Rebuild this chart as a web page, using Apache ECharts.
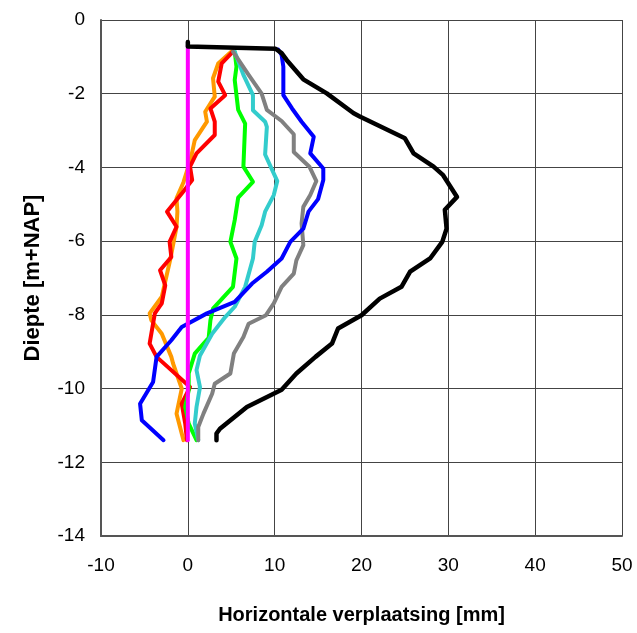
<!DOCTYPE html>
<html><head><meta charset="utf-8">
<script src="https://cdn.jsdelivr.net/npm/echarts@6/dist/echarts.min.js"></script>
<style>html,body{margin:0;padding:0;background:#fff}#c{width:637px;height:633px}</style>
</head><body><div id="c"></div>
<script>
const xTicks = [-10, 0, 10, 20, 30, 40, 50];
const yTicks = [0, -2, -4, -6, -8, -10, -12, -14];

const blackX = [0,0,10.1,10.8,11.4,13.3,16.0,19.1,19.8,25.0,26.0,28.3,29.4,31.0,29.6,29.8,29.3,27.9,25.6,24.6,22.1,20.0,17.3,16.6,14.7,12.5,10.8,6.8,3.7,3.3,3.3];
const blackY = [-0.6,-0.72,-0.78,-0.9,-1.09,-1.61,-1.99,-2.53,-2.62,-3.21,-3.62,-3.98,-4.21,-4.80,-5.15,-5.66,-6.02,-6.47,-6.83,-7.24,-7.56,-8.01,-8.37,-8.78,-9.14,-9.59,-10.03,-10.5,-11.09,-11.22,-11.4];

const blueX = [10.4,10.8,11.0,11.0,12.0,13.1,14.5,14.1,15.6,15.6,15.0,13.9,13.3,11.8,10.8,9.1,7.4,5.4,2.2,-0.7,-1.9,-3.6,-4.0,-5.5,-5.3,-2.8];
const blueY = [-0.8,-0.95,-1.27,-2.04,-2.4,-2.76,-3.17,-3.62,-4.03,-4.34,-4.86,-5.2,-5.66,-6.02,-6.47,-6.83,-7.15,-7.65,-7.96,-8.33,-8.69,-9.14,-9.82,-10.41,-10.86,-11.4];

const grayX = [5.2,7.0,8.5,9.1,10.8,12.2,12.2,14.0,14.8,14.1,13.3,13.1,13.3,12.5,12.2,10.8,9.9,9.0,7.0,6.4,5.3,4.9,3.1,2.8,1.8,1.2,1.2];
const grayY = [-0.86,-1.49,-2.0,-2.44,-2.74,-3.1,-3.58,-3.98,-4.37,-4.75,-5.07,-5.52,-6.11,-6.52,-6.88,-7.24,-7.69,-8.01,-8.24,-8.6,-9.05,-9.59,-9.87,-10.14,-10.68,-11.04,-11.4];

const cyanX = [5.4,6.4,7.5,7.5,8.9,9.1,8.9,10.3,9.9,8.9,8.5,7.7,7.5,6.6,5.4,4.3,2.8,1.4,1.0,1.4,1.0,0.8,1.2];
const cyanY = [-0.86,-1.49,-2.04,-2.45,-2.76,-2.9,-3.65,-4.37,-4.75,-5.2,-5.57,-6.02,-6.47,-7.24,-7.78,-8.06,-8.51,-9.1,-9.5,-9.96,-10.5,-10.95,-11.4];

const greenX = [5.4,5.6,5.4,5.8,6.6,6.4,7.5,5.8,5.4,4.9,5.6,5.2,2.9,2.6,2.4,0.8,0.1,0.1,-0.3,0.1,1.0];
const greenY = [-0.86,-1.27,-1.63,-2.44,-2.81,-3.98,-4.39,-4.82,-5.43,-6.02,-6.47,-7.24,-7.83,-8.15,-8.62,-9.05,-9.59,-10.05,-10.5,-10.95,-11.4];

const orangeX = [5.0,3.5,2.9,3.1,2.0,2.2,0.8,0.3,-0.5,-1.3,-1.2,-1.3,-2.0,-3.0,-4.4,-4.2,-3.0,-1.9,-1.7,-0.7,-1.3,-0.5];
const orangeY = [-0.86,-1.18,-1.58,-2.08,-2.49,-2.76,-3.26,-3.8,-4.4,-4.84,-5.2,-5.61,-6.47,-7.51,-7.96,-8.15,-8.51,-9.14,-9.32,-10.0,-10.68,-11.4];

const redX = [5.2,3.9,3.5,4.3,2.6,3.1,3.1,1.0,0.25,0.5,-0.7,-2.4,-1.3,-2.1,-1.9,-3.2,-2.6,-3.0,-3.8,-4.4,-3.6,0.25,-0.7,-0.3,-0.1];
const redY = [-0.86,-1.18,-1.67,-2.04,-2.40,-2.76,-3.12,-3.62,-3.98,-4.34,-4.71,-5.2,-5.61,-6.02,-6.43,-6.79,-7.2,-7.69,-7.96,-8.78,-9.14,-9.96,-10.41,-10.95,-11.4];

const pinkX = [0, 0];
const pinkY = [-0.7, -11.4];

function pairs(xs, ys) { return xs.map((x, i) => [x, ys[i]]); }
function ser(xs, ys, color, w, z) {
  return { type: 'line', data: pairs(xs, ys), showSymbol: false, symbol: 'none', smooth: false,
    lineStyle: { color: color, width: w, join: 'round', cap: 'round' }, z: z, silent: true, animation: false };
}

const chart = echarts.init(document.getElementById('c'), null, { renderer: 'canvas' });
chart.setOption({
  animation: false,
  backgroundColor: '#fff',
  grid: { left: 101, top: 20, right: 15, bottom: 97, containLabel: false },
  xAxis: {
    type: 'value', min: xTicks[0], max: xTicks[xTicks.length - 1], interval: 10,
    name: 'Horizontale verplaatsing [mm]', nameLocation: 'middle', nameGap: 69,
    nameTextStyle: { fontFamily: 'Liberation Sans', fontWeight: 'bold', fontSize: 20, color: '#000' },
    axisLine: { show: true, onZero: false, lineStyle: { color: '#555', width: 2 } },
    axisTick: { show: false },
    axisLabel: { fontFamily: 'Liberation Sans', fontSize: 19, color: '#000', margin: 20 },
    splitLine: { show: true, lineStyle: { color: '#444', width: 1 } }
  },
  yAxis: {
    type: 'value', min: yTicks[yTicks.length - 1], max: yTicks[0], interval: 2,
    name: 'Diepte [m+NAP]', nameLocation: 'middle', nameGap: 57,
    nameTextStyle: { fontFamily: 'Liberation Sans', fontWeight: 'bold', fontSize: 22, color: '#000' },
    axisLine: { show: true, onZero: false, lineStyle: { color: '#555', width: 2 } },
    axisTick: { show: false },
    axisLabel: { fontFamily: 'Liberation Sans', fontSize: 19, color: '#000', margin: 16 },
    splitLine: { show: true, lineStyle: { color: '#444', width: 1 } }
  },
  series: [
    ser(orangeX, orangeY, '#FF9900', 4, 2),
    ser(redX, redY, '#FF0000', 4, 3),
    ser(greenX, greenY, '#00FF00', 4, 4),
    ser(cyanX, cyanY, '#33CCCC', 4, 5),
    ser(grayX, grayY, '#808080', 4, 6),
    ser(blueX, blueY, '#0000FF', 4, 7),
    ser(pinkX, pinkY, '#FF00FF', 4, 8),
    ser(blackX, blackY, '#000000', 4.5, 9)
  ]
});
</script>
</body></html>
